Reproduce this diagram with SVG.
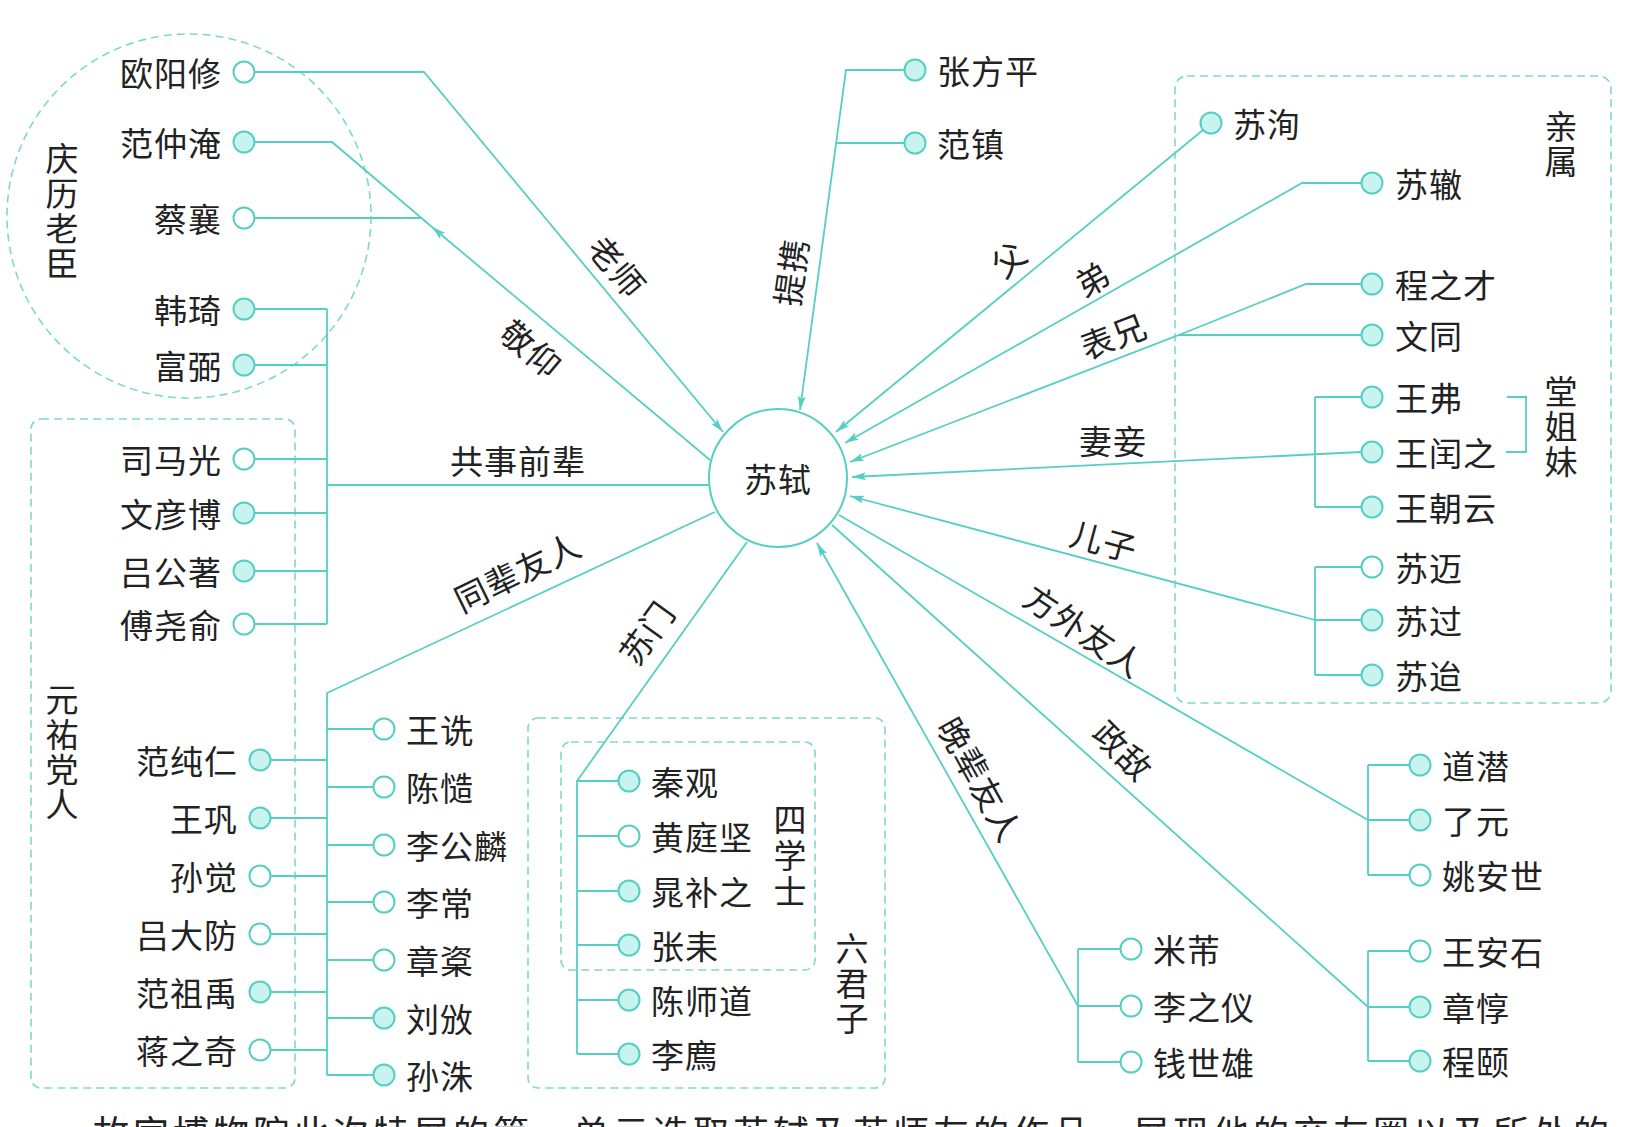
<svg xmlns="http://www.w3.org/2000/svg" width="1629" height="1127" viewBox="0 0 1629 1127">
<style>
.ln{fill:none;stroke:#55cfc3;stroke-width:1.8}
.ar{marker-end:url(#arr)}
.box{fill:none;stroke:#7dd9d0;stroke-width:1.6;stroke-dasharray:8 5}
.nf{fill:#c8f3ee;stroke:#55cfc3;stroke-width:2}
.ne{fill:#ffffff;stroke:#55cfc3;stroke-width:2}
text{font-family:"Noto Sans CJK SC","Noto Sans",sans-serif;font-size:33px;fill:#222;dominant-baseline:central;letter-spacing:1px}
.r{text-anchor:end}
.m{text-anchor:middle}
.v{writing-mode:vertical-rl;text-orientation:upright;text-anchor:middle;letter-spacing:2px}
.body{font-size:36px;letter-spacing:4px;dominant-baseline:auto}
</style>
<defs>
<marker id="arr" viewBox="0 0 14 8" refX="14" refY="4" markerWidth="14" markerHeight="8" markerUnits="userSpaceOnUse" orient="auto">
<path d="M0,0 L14,4 L0,8 L3,4 z" fill="#55cfc3"/>
</marker>
</defs>
<rect width="1629" height="1127" fill="#ffffff"/>

<g id="groups">
<circle id="g-qingli" class="box" cx="189" cy="216" r="182"/>
<rect id="g-yuanyou" class="box" x="31" y="419" width="264" height="669" rx="10"/>
<rect id="g-liujunzi" class="box" x="528" y="718" width="357" height="370" rx="10"/>
<rect id="g-sixueshi" class="box" x="561" y="742" width="254" height="228" rx="10"/>
<rect id="g-qinshu" class="box" x="1175" y="76" width="436" height="627" rx="12"/>
<text class="v" x="62" y="212">庆历老臣</text>
<text class="v" x="62" y="753">元祐党人</text>
<text class="v" x="790" y="857" style="letter-spacing:3px">四学士</text>
<text class="v" x="852" y="984">六君子</text>
<text class="v" x="1561" y="145">亲属</text>
<text class="v" x="1561" y="427">堂姐妹</text>
</g>

<g id="connectors">
<path class="ln ar" d="M254.5,72 H424 L723,432"/>
<path class="ln ar" d="M710,460 L432,227"/>
<path class="ln" d="M432,227 L332,142 H254.5"/>
<path class="ln" d="M254.5,218 H422"/>
<path class="ln" d="M327,309 V624 M254.5,309 H327 M254.5,365 H327 M254.5,459 H327 M254.5,513 H327 M254.5,571 H327 M254.5,624 H327 M327,485 H709"/>
<path class="ln" d="M715,512 L327,693 V1075 M270.5,760 H327 M270.5,818 H327 M270.5,876 H327 M270.5,934 H327 M270.5,992 H327 M270.5,1050 H327 M327,729 H373.5 M327,787 H373.5 M327,845 H373.5 M327,902 H373.5 M327,960 H373.5 M327,1018 H373.5 M327,1075 H373.5"/>
<path class="ln" d="M747,542 L577,781 V1054 M577,781 H618.5 M577,836 H618.5 M577,891 H618.5 M577,945 H618.5 M577,1000 H618.5 M577,1054 H618.5"/>
<path class="ln ar" d="M1078,1006 L817,543"/>
<path class="ln" d="M1078,949 V1062 M1078,949 H1120.5 M1078,1006 H1120.5 M1078,1062 H1120.5"/>
<path class="ln" d="M832,525 L1368,1007 M1368,951 V1061 M1368,951 H1409.5 M1368,1007 H1409.5 M1368,1061 H1409.5"/>
<path class="ln" d="M839,515 L1368,820 M1368,765 V875 M1368,765 H1409.5 M1368,820 H1409.5 M1368,875 H1409.5"/>
<path class="ln ar" d="M1315,620 L850,496"/>
<path class="ln" d="M1315,567 V675 M1315,567 H1361.5 M1315,620 H1361.5 M1315,675 H1361.5"/>
<path class="ln ar" d="M1361.5,452 L852,477"/>
<path class="ln" d="M1315,397 V507 M1315,397 H1361.5 M1315,507 H1361.5"/>
<path class="ln" d="M1507,397 H1526 V452 H1506"/>
<path class="ln" d="M1361.5,284 H1306 L1179,335"/>
<path class="ln ar" d="M1361.5,335 H1179 L850,462"/>
<path class="ln ar" d="M1361.5,183 H1302 L845,443"/>
<path class="ln ar" d="M1203,130 L836,432"/>
<path class="ln ar" d="M904.5,70 H846 L800,410"/>
<path class="ln" d="M904.5,143 H837"/>
</g>

<g id="edge-labels">
<text class="m" transform="translate(618,266) rotate(50)">老师</text>
<text class="m" transform="translate(532,348) rotate(40)">敬仰</text>
<text class="m" transform="translate(790,272) rotate(-82)">提携</text>
<text class="m" transform="translate(1008,258) rotate(-40)">父</text>
<text class="m" transform="translate(1092,278) rotate(-30)">弟</text>
<text class="m" transform="translate(1113,335) rotate(-21)">表兄</text>
<text class="m" transform="translate(1113,440)">妻妾</text>
<text class="m" transform="translate(1104,540) rotate(15)">儿子</text>
<text class="m" transform="translate(1085,630) rotate(34)">方外友人</text>
<text class="m" transform="translate(1124,750) rotate(45)">政敌</text>
<text class="m" transform="translate(981,779) rotate(61)">晚辈友人</text>
<text class="m" transform="translate(646,632) rotate(-54)">苏门</text>
<text class="m" transform="translate(517,571) rotate(-26)">同辈友人</text>
<text class="m" transform="translate(518,460)">共事前辈</text>
</g>

<g id="n-sushi"><circle cx="778" cy="478" r="69" fill="#fff" stroke="#55cfc3" stroke-width="2"/><text class="m" x="778" y="478">苏轼</text></g>

<g id="n-ouyangxiu"><circle class="ne" cx="244" cy="72" r="10.5"/><text class="r" x="222" y="72">欧阳修</text></g>
<g id="n-fanzhongyan"><circle class="nf" cx="244" cy="142" r="10.5"/><text class="r" x="222" y="142">范仲淹</text></g>
<g id="n-caixiang"><circle class="ne" cx="244" cy="218" r="10.5"/><text class="r" x="222" y="218">蔡襄</text></g>
<g id="n-hanqi"><circle class="nf" cx="244" cy="309" r="10.5"/><text class="r" x="222" y="309">韩琦</text></g>
<g id="n-fubi"><circle class="nf" cx="244" cy="365" r="10.5"/><text class="r" x="222" y="365">富弼</text></g>
<g id="n-simaguang"><circle class="ne" cx="244" cy="459" r="10.5"/><text class="r" x="222" y="459">司马光</text></g>
<g id="n-wenyanbo"><circle class="nf" cx="244" cy="513" r="10.5"/><text class="r" x="222" y="513">文彦博</text></g>
<g id="n-lvgongzhu"><circle class="nf" cx="244" cy="571" r="10.5"/><text class="r" x="222" y="571">吕公著</text></g>
<g id="n-fuyaoyu"><circle class="ne" cx="244" cy="624" r="10.5"/><text class="r" x="222" y="624">傅尧俞</text></g>

<g id="n-fanchunren"><circle class="nf" cx="260" cy="760" r="10.5"/><text class="r" x="238" y="760">范纯仁</text></g>
<g id="n-wanggong"><circle class="nf" cx="260" cy="818" r="10.5"/><text class="r" x="238" y="818">王巩</text></g>
<g id="n-sunjue"><circle class="ne" cx="260" cy="876" r="10.5"/><text class="r" x="238" y="876">孙觉</text></g>
<g id="n-lvdafang"><circle class="ne" cx="260" cy="934" r="10.5"/><text class="r" x="238" y="934">吕大防</text></g>
<g id="n-fanzuyu"><circle class="nf" cx="260" cy="992" r="10.5"/><text class="r" x="238" y="992">范祖禹</text></g>
<g id="n-jiangzhiqi"><circle class="ne" cx="260" cy="1050" r="10.5"/><text class="r" x="238" y="1050">蒋之奇</text></g>

<g id="n-wangshen"><circle class="ne" cx="384" cy="729" r="10.5"/><text x="406" y="729">王诜</text></g>
<g id="n-chenzao"><circle class="ne" cx="384" cy="787" r="10.5"/><text x="406" y="787">陈慥</text></g>
<g id="n-ligonglin"><circle class="ne" cx="384" cy="845" r="10.5"/><text x="406" y="845">李公麟</text></g>
<g id="n-lichang"><circle class="ne" cx="384" cy="902" r="10.5"/><text x="406" y="902">李常</text></g>
<g id="n-zhangjie"><circle class="ne" cx="384" cy="960" r="10.5"/><text x="406" y="960">章楶</text></g>
<g id="n-liuban"><circle class="nf" cx="384" cy="1018" r="10.5"/><text x="406" y="1018">刘攽</text></g>
<g id="n-sunzhu"><circle class="nf" cx="384" cy="1075" r="10.5"/><text x="406" y="1075">孙洙</text></g>

<g id="n-qinguan"><circle class="nf" cx="629" cy="781" r="10.5"/><text x="651" y="781">秦观</text></g>
<g id="n-huangtingjian"><circle class="ne" cx="629" cy="836" r="10.5"/><text x="651" y="836">黄庭坚</text></g>
<g id="n-chaobuzhi"><circle class="nf" cx="629" cy="891" r="10.5"/><text x="651" y="891">晁补之</text></g>
<g id="n-zhanglei"><circle class="nf" cx="629" cy="945" r="10.5"/><text x="651" y="945">张耒</text></g>
<g id="n-chenshidao"><circle class="nf" cx="629" cy="1000" r="10.5"/><text x="651" y="1000">陈师道</text></g>
<g id="n-lizhi"><circle class="nf" cx="629" cy="1054" r="10.5"/><text x="651" y="1054">李廌</text></g>

<g id="n-mifu"><circle class="ne" cx="1131" cy="949" r="10.5"/><text x="1153" y="949">米芾</text></g>
<g id="n-lizhiyi"><circle class="ne" cx="1131" cy="1006" r="10.5"/><text x="1153" y="1006">李之仪</text></g>
<g id="n-qianshixiong"><circle class="ne" cx="1131" cy="1062" r="10.5"/><text x="1153" y="1062">钱世雄</text></g>

<g id="n-wanganshi"><circle class="ne" cx="1420" cy="951" r="10.5"/><text x="1442" y="951">王安石</text></g>
<g id="n-zhangdun"><circle class="nf" cx="1420" cy="1007" r="10.5"/><text x="1442" y="1007">章惇</text></g>
<g id="n-chengyi"><circle class="nf" cx="1420" cy="1061" r="10.5"/><text x="1442" y="1061">程颐</text></g>

<g id="n-daoqian"><circle class="nf" cx="1420" cy="765" r="10.5"/><text x="1442" y="765">道潜</text></g>
<g id="n-liaoyuan"><circle class="nf" cx="1420" cy="820" r="10.5"/><text x="1442" y="820">了元</text></g>
<g id="n-yaoanshi"><circle class="ne" cx="1420" cy="875" r="10.5"/><text x="1442" y="875">姚安世</text></g>

<g id="n-zhangfangping"><circle class="nf" cx="915" cy="70" r="10.5"/><text x="937" y="70">张方平</text></g>
<g id="n-fanzhen"><circle class="nf" cx="915" cy="143" r="10.5"/><text x="937" y="143">范镇</text></g>

<g id="n-suxun"><circle class="nf" cx="1211" cy="123" r="10.5"/><text x="1233" y="123">苏洵</text></g>
<g id="n-suzhe"><circle class="nf" cx="1372" cy="183" r="10.5"/><text x="1395" y="183">苏辙</text></g>
<g id="n-chengzhicai"><circle class="nf" cx="1372" cy="284" r="10.5"/><text x="1395" y="284">程之才</text></g>
<g id="n-wentong"><circle class="nf" cx="1372" cy="335" r="10.5"/><text x="1395" y="335">文同</text></g>
<g id="n-wangfu"><circle class="nf" cx="1372" cy="397" r="10.5"/><text x="1395" y="397">王弗</text></g>
<g id="n-wangrunzhi"><circle class="nf" cx="1372" cy="452" r="10.5"/><text x="1395" y="452">王闰之</text></g>
<g id="n-wangchaoyun"><circle class="nf" cx="1372" cy="507" r="10.5"/><text x="1395" y="507">王朝云</text></g>
<g id="n-sumai"><circle class="ne" cx="1372" cy="567" r="10.5"/><text x="1395" y="567">苏迈</text></g>
<g id="n-suguo"><circle class="nf" cx="1372" cy="620" r="10.5"/><text x="1395" y="620">苏过</text></g>
<g id="n-sudai"><circle class="nf" cx="1372" cy="675" r="10.5"/><text x="1395" y="675">苏迨</text></g>

<text class="body" x="93" y="1147">故宫博物院此次特展的第一单元选取苏轼及苏师友的作品，展现他的交友圈以及所处的</text>
</svg>
